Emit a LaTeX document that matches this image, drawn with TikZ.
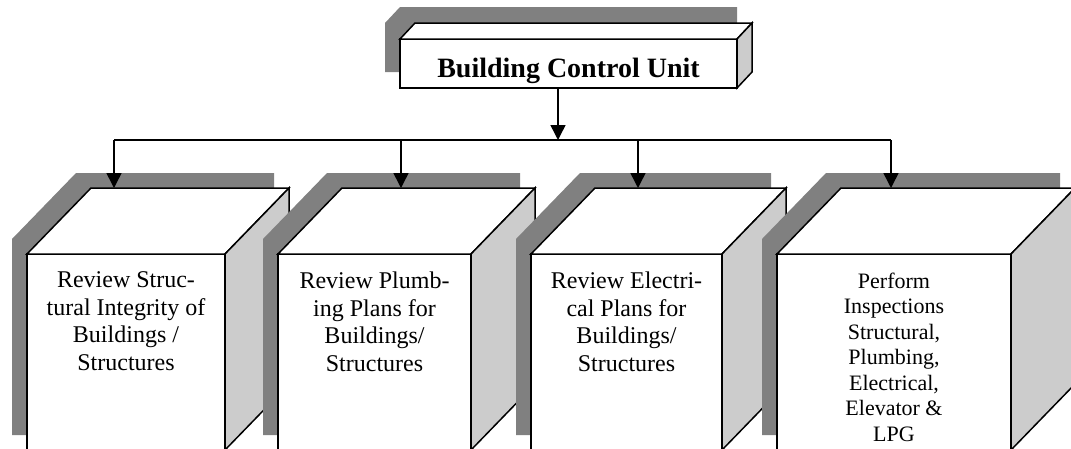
\documentclass[tikz,border=0pt]{standalone}
\usepackage{fontspec}
\setmainfont{Liberation Serif}
\usetikzlibrary{arrows.meta,calc}
\definecolor{shadowgray}{HTML}{808080}
\definecolor{sidegray}{HTML}{CCCCCC}
\begin{document}
\begin{tikzpicture}[x=1pt,y=-1pt,
  ph/.style={inner sep=0pt,outer sep=0pt,draw=none,anchor=north west},
  shadowfill/.style={fill=shadowgray,draw=none},
  frontface/.style={draw=black,line width=1.5pt,fill=white,line join=miter},
  sideface/.style={frontface,fill=sidegray},
  conn/.style={draw=black,line width=1.5pt},
  arrowconn/.style={conn,-{Triangle[length=15pt,width=15pt]}},
  boxtext/.style={inner sep=0pt,outer sep=0pt,align=center,anchor=north,font=\fontsize{24}{27.5}\selectfont},
  smalltext/.style={boxtext,font=\fontsize{22}{25.5}\selectfont},
  titletext/.style={inner sep=0pt,outer sep=0pt,anchor=base,font=\bfseries\fontsize{28}{30}\selectfont}]
\useasboundingbox (0,0) rectangle (1071,448);
\clip (0,0) rectangle (1071,448);
% placeholders for front faces
\node[ph,minimum width=337pt,minimum height=49pt] (f0) at (400,39) {};
\node[ph,minimum width=198pt,minimum height=196pt] (f1) at (27,254) {};
\node[ph,minimum width=193pt,minimum height=196pt] (f2) at (278,254) {};
\node[ph,minimum width=191pt,minimum height=196pt] (f3) at (531,254) {};
\node[ph,minimum width=234pt,minimum height=196pt] (f4) at (777,254) {};
% top box
\fill[shadowfill] ($(f0.south west)+(-15,-16)$) -- ($(f0.north west)+(-15,-16)$) -- ($(f0.north west)+(0,-32)$) -- ($(f0.north east)+(0,-32)$) -- ($(f0.south east)+(0,-32)$) -- ($(f0.south east)+(-15,-16)$) -- cycle;
\draw[frontface] (f0.south west) rectangle (f0.north east);
\draw[frontface] (f0.north west) -- ++(15,-16) -- ($(f0.north east)+(15,-16)$) -- (f0.north east) -- cycle;
\draw[sideface] (f0.north east) -- ++(15,-16) -- ($(f0.south east)+(15,-16)$) -- (f0.south east) -- cycle;
\node[titletext] (l0) at ($(f0.south)+(0,-11)$) {Building Control Unit};
% lower boxes
\foreach \k in {1,2,3,4}{
  \fill[shadowfill] ($(f\k.south west)+(-15,-15)$) -- ($(f\k.north west)+(-15,-15)$) -- ($(f\k.north west)+(49,-81)$) -- ($(f\k.north east)+(49,-81)$) -- ($(f\k.south east)+(49,-81)$) -- ($(f\k.south east)+(-15,-15)$) -- cycle;
  \draw[frontface] (f\k.south west) rectangle (f\k.north east);
  \draw[frontface] (f\k.north west) -- ++(64,-66) -- ($(f\k.north east)+(64,-66)$) -- (f\k.north east) -- cycle;
  \draw[sideface] (f\k.north east) -- ++(64,-66) -- ($(f\k.south east)+(64,-66)$) -- (f\k.south east) -- cycle;
}
\node[boxtext] (l1) at ($(f1.north)+(0,18)$) {Review Struc-\\tural Integrity of\\Buildings /\\Structures};
\node[boxtext] (l2) at ($(f2.north)+(0,18)$) {Review Plumb-\\ing Plans for\\Buildings/\\Structures};
\node[boxtext] (l3) at ($(f3.north)+(0,18)$) {Review Electri-\\cal Plans for\\Buildings/\\Structures};
\node[smalltext] (l4) at ($(f4.north)+(0,19)$) {Perform\\Inspections\\Structural,\\Plumbing,\\Electrical,\\Elevator \&\\LPG};
% connectors
\coordinate (bc) at (558,140);
\coordinate (j1) at (114,140);
\coordinate (j2) at (401,140);
\coordinate (j3) at (638,140);
\coordinate (j4) at (891,140);
\coordinate (t1) at (114,188);
\coordinate (t2) at (401,188);
\coordinate (t3) at (638,188);
\coordinate (t4) at (891,188);
\draw[arrowconn] (f0.south -| bc) -- (bc);
\draw[conn] (j1) -- (j4);
\draw[arrowconn] (j1) -- (t1);
\draw[arrowconn] (j2) -- (t2);
\draw[arrowconn] (j3) -- (t3);
\draw[arrowconn] (j4) -- (t4);
\end{tikzpicture}
\end{document}
